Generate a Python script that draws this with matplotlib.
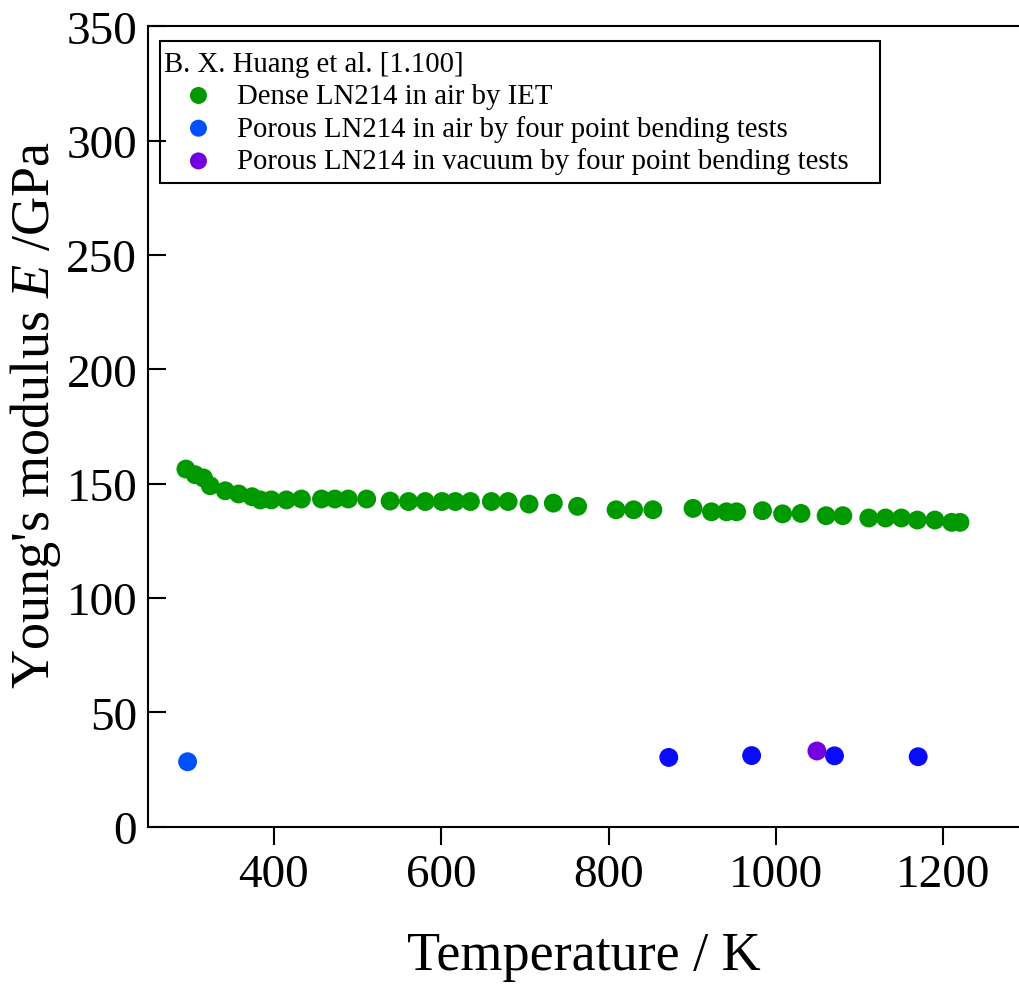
import matplotlib
matplotlib.use("Agg")
import matplotlib.pyplot as plt
from matplotlib.patches import Rectangle

plt.rcParams['font.family'] = ['Liberation Serif', 'DejaVu Serif']
plt.rcParams['mathtext.fontset'] = 'custom'
plt.rcParams['mathtext.rm'] = 'Liberation Serif'
plt.rcParams['mathtext.it'] = 'Liberation Serif:italic'

# Dense LN214 in air by IET
dense_T = [295, 306, 316, 324, 342, 358, 374, 384, 397, 415, 433, 457, 473, 489, 511,
           539, 561, 581, 601, 617, 635, 660, 680, 705, 734, 763, 809, 830, 853, 901,
           923, 941, 953, 984, 1008, 1030, 1060, 1080, 1111, 1131, 1150, 1169, 1190,
           1210, 1220]
dense_E = [156.4, 153.9, 152.5, 149.1, 146.9, 145.5, 144.3, 142.9, 142.9, 142.9, 143.3,
           143.3, 143.3, 143.3, 143.3, 142.4, 142.2, 142.2, 142.2, 142.2, 142.2, 142.2,
           142.2, 141.1, 141.5, 140.1, 138.6, 138.6, 138.6, 139.2, 137.7, 137.7, 137.7,
           138.2, 136.8, 137.0, 136.0, 136.0, 135.0, 135.0, 135.0, 134.1, 134.1, 133.1,
           133.1]

# Porous LN214 in air by four point bending tests
porous_air_T = [297, 872, 971, 1070, 1170]
porous_air_E = [28.4, 30.3, 31.1, 31.0, 30.6]

# Porous LN214 in vacuum by four point bending tests
porous_vac_T = [1049]
porous_vac_E = [33.1]

legend_title = "B. X. Huang et al. [1.100]"
labels = ["Dense LN214 in air by IET",
          "Porous LN214 in air by four point bending tests",
          "Porous LN214 in vacuum by four point bending tests"]

x_ticks = [400, 600, 800, 1000, 1200]
y_ticks = [0, 50, 100, 150, 200, 250, 300, 350]

fig = plt.figure(figsize=(10.19, 9.87), dpi=100)
ax = fig.add_axes([0.1455, 0.1614, 1.0 - 0.1455, 0.9723 - 0.1614])

green = '#009900'
blue_light = '#0050ff'
blue_dark = '#0a0aff'
purple = '#7300e0'
ms = 185

ax.scatter(dense_T, dense_E, s=ms, color=green, edgecolors='none', label=labels[0], zorder=3)
ax.scatter(porous_air_T[:1], porous_air_E[:1], s=ms, color=blue_light, edgecolors='none',
           label=labels[1], zorder=3)
ax.scatter(porous_air_T[1:], porous_air_E[1:], s=ms, color=blue_dark, edgecolors='none', zorder=3)
ax.scatter(porous_vac_T, porous_vac_E, s=ms, color=purple, edgecolors='none',
           label=labels[2], zorder=3)

ax.set_xlim(250, 1290.5)
ax.set_ylim(0, 350)
ax.set_xticks(x_ticks)
ax.set_yticks(y_ticks)
ax.tick_params(axis='x', direction='out', length=13, width=1.5, labelsize=34, pad=6)
ax.tick_params(axis='y', direction='in', length=13, width=1.5, labelsize=34, pad=8)
for s in ['left', 'bottom', 'top']:
    ax.spines[s].set_linewidth(1.5)
ax.spines['right'].set_visible(False)

ax.set_xlabel("Temperature / K", fontsize=39, labelpad=25)
ax.set_ylabel("Young's modulus $E$ /GPa", fontsize=39)
ax.yaxis.set_label_coords(-0.098, 0.515)

leg = ax.legend(title=legend_title, loc='upper left', bbox_to_anchor=(0.0185, 0.969),
                fontsize=20.7, title_fontsize=20.7, frameon=False,
                borderpad=0.0, labelspacing=0.2,
                handletextpad=0.14, handlelength=2.37, borderaxespad=0.0,
                scatterpoints=1, markerscale=0.9)
leg._legend_box.align = "left"

fig.canvas.draw()
bb = leg.get_window_extent()
W, H = fig.bbox.width, fig.bbox.height
x0 = (bb.x0 - 4) / W
x1 = (bb.x1 + 32) / W
y0 = (bb.y0 - 9) / H
y1 = (bb.y1 + 10) / H
fig.patches.append(Rectangle((x0, y0), x1 - x0, y1 - y0, transform=fig.transFigure,
                             fill=False, edgecolor='black', linewidth=1.5, zorder=5))

fig.savefig("out.png", dpi=100)
